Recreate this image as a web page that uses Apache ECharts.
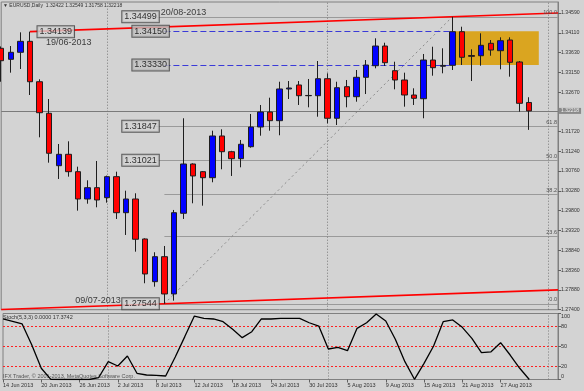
<!DOCTYPE html>
<html><head><meta charset="utf-8">
<script src="https://cdn.jsdelivr.net/npm/echarts@6/dist/echarts.min.js"></script>
<style>html,body{margin:0;padding:0;background:#d3d3d3}#c{width:584px;height:391px}</style>
</head><body><div id="c"></div>
<script>
// ---------- DATA ----------
const dates = ['14 Jun 2013','17 Jun 2013','18 Jun 2013','19 Jun 2013','20 Jun 2013','21 Jun 2013','24 Jun 2013','25 Jun 2013','26 Jun 2013','27 Jun 2013','28 Jun 2013',
'1 Jul 2013','2 Jul 2013','3 Jul 2013','4 Jul 2013','5 Jul 2013','8 Jul 2013','9 Jul 2013','10 Jul 2013','11 Jul 2013','12 Jul 2013','15 Jul 2013','16 Jul 2013','17 Jul 2013','18 Jul 2013','19 Jul 2013','22 Jul 2013','23 Jul 2013','24 Jul 2013','25 Jul 2013','26 Jul 2013','29 Jul 2013','30 Jul 2013','31 Jul 2013',
'1 Aug 2013','2 Aug 2013','5 Aug 2013','6 Aug 2013','7 Aug 2013','8 Aug 2013','9 Aug 2013','12 Aug 2013','13 Aug 2013','14 Aug 2013','15 Aug 2013','16 Aug 2013','19 Aug 2013','20 Aug 2013','21 Aug 2013','22 Aug 2013','23 Aug 2013','26 Aug 2013','27 Aug 2013','28 Aug 2013','29 Aug 2013','30 Aug 2013'];
const futureDates = ['2 Sep 2013','3 Sep 2013','4 Sep 2013'];
const opens  = [1.33735,1.33468,1.33638,1.33904,1.32925,1.32160,1.30890,1.31166,1.30745,1.30083,1.30357,
1.30115,1.30624,1.29751,1.30083,1.29114,1.28079,1.28685,1.27781,1.29737,1.30931,1.30745,1.30599,1.31610,1.31229,1.31060,1.31350,1.31828,1.32191,1.31981,1.32749,1.32846,1.32586,1.32586,
1.32998,1.32039,1.32804,1.32562,1.33032,1.33313,1.33790,1.33192,1.32967,1.32603,1.32513,1.33451,1.33300,1.33323,1.34137,1.33560,1.33555,1.33856,1.33677,1.33936,1.33403,1.32422];
const closes = [1.33434,1.33638,1.33904,1.32925,1.32174,1.31191,1.31166,1.30745,1.30083,1.30357,1.30059,
1.30624,1.29751,1.30083,1.29107,1.28266,1.28685,1.27781,1.29751,1.30931,1.30641,1.30599,1.31610,1.31229,1.31060,1.31409,1.31828,1.32191,1.31981,1.32749,1.32773,1.32586,1.32592,1.32998,
1.32039,1.32780,1.32562,1.33032,1.33330,1.33790,1.33386,1.32967,1.32603,1.32523,1.33451,1.33265,1.33320,1.34137,1.33517,1.33540,1.33807,1.33693,1.33919,1.33395,1.32402,1.32218];
const lows   = [1.32925,1.33144,1.33233,1.32603,1.31578,1.30963,1.30568,1.30624,1.29800,1.29969,1.29882,
1.29994,1.29599,1.29211,1.28806,1.28041,1.27958,1.27544,1.27619,1.29599,1.29979,1.29921,1.30488,1.30803,1.30641,1.30851,1.31326,1.31617,1.31738,1.31627,1.32506,1.32361,1.32305,1.32077,
1.31917,1.31876,1.32305,1.32441,1.32627,1.33250,1.33306,1.32741,1.32320,1.32361,1.32039,1.33071,1.33129,1.33209,1.33330,1.32942,1.33313,1.33555,1.33226,1.33047,1.32198,1.31758];
const highs  = [1.33780,1.33790,1.34122,1.34139,1.32984,1.32506,1.31416,1.31481,1.30866,1.30536,1.31004,
1.30650,1.30745,1.30284,1.30221,1.29130,1.28792,1.28944,1.29817,1.32039,1.30947,1.30760,1.31738,1.31772,1.31250,1.31513,1.32143,1.32361,1.32538,1.32925,1.32942,1.32942,1.32991,1.33427,
1.33129,1.32925,1.32967,1.33209,1.33451,1.33977,1.33870,1.33410,1.33144,1.32766,1.33597,1.33773,1.33735,1.34499,1.34258,1.33710,1.34098,1.33936,1.34001,1.34001,1.33427,1.32549];
const stochK = [91.7,88,84.1,52.7,17,0.3,0,0,0,0,3,
27,20.5,35.6,9.4,6.8,6.3,5.3,34,65,96.2,92.7,91.7,87.6,76,63.4,72.4,91.7,91.7,92.7,92.7,92.7,86,81,
46.2,48.8,43.7,77.5,86,99.2,88.6,60.9,27,0.3,24.5,50.8,87.6,90.2,79,62.4,40.6,42,55.8,37.1,17,0];
const stochSignalLast = 17.3742;
const priceTicks = [1.2740,1.2788,1.2836,1.2884,1.2932,1.2980,1.3028,1.3076,1.3124,1.3172,1.3267,1.3315,1.3363,1.3411,1.3459];
const stochTicks = [0,20,50,80,100];
const stochLevels = [20,50,80];
const fibLevels = [0,23.6,38.2,50,61.8,100];
const fibLow = 1.27544, fibHigh = 1.34499;
const boxedFib = [0,50,61.8,100];
const fibPriceLabels = [1.27544,1.31021,1.31847,1.34499];
const zoneLevels = [1.34150,1.33330];
const monthStarts = ['1 Jul 2013','1 Aug 2013','3 Sep 2013'];
const dateLabelEvery = 4;

// ---------- BUILD ----------
const cats = dates.concat(futureDates);
const lastX = cats.length - 1;
const idx = d => cats.indexOf(d);
const FONT = '"Liberation Sans", Arial, sans-serif';
const BG = '#d3d3d3';
const n = dates.length;
const last = n - 1;
const candles = dates.map((d,i)=>[opens[i],closes[i],lows[i],highs[i]]);
const iTopA = idx('19 Jun 2013'), iTopB = idx('20 Aug 2013'), iLow = idx('9 Jul 2013');
const slope = (highs[iTopB]-highs[iTopA])/(iTopB-iTopA);
const fibPrice = L => fibLow + (fibHigh-fibLow)*L/100;
const mmdd = s => { const p=s.split(' '); const m=['Jan','Feb','Mar','Apr','May','Jun','Jul','Aug','Sep','Oct','Nov','Dec'].indexOf(p[1])+1; return (p[0].length<2?'0':'')+p[0]+'/'+(m<10?'0':'')+m+'-'+p[2]; };

const boxLabel = (extra) => Object.assign({show:true, distance:0, fontFamily:FONT, fontSize:9, lineHeight:10, color:'#000',
  backgroundColor:BG, borderColor:'#3c3c3c', borderWidth:1, padding:[1,2,0,2]}, extra);
const plainLabel = (extra) => Object.assign({show:true, distance:0, fontFamily:FONT, fontSize:9, color:'#111'}, extra);

const zoneStart = iLow, zoneEnd = iTopB;
const labelsData = [
  {value:[iTopA, highs[iTopA]], label: boxLabel({position:'right', offset:[7,0], formatter: highs[iTopA].toFixed(5)})},
  {value:[iTopA, highs[iTopA]], label: plainLabel({position:'right', offset:[15.5,10.5], formatter: mmdd(dates[iTopA])})},
  {value:[iLow-1, highs[iTopB]], label: plainLabel({position:'right', offset:[5.5,-4.5], formatter: mmdd(dates[iTopB])})},
  {value:[iLow-1, lows[iLow]], label: plainLabel({position:'left', offset:[-33.5,-3.5], formatter: mmdd(dates[iLow])})},
];
fibPriceLabels.forEach(p => labelsData.push({value:[iLow-1, p], label: boxLabel({position:'left', offset:[4.5,0], formatter: p.toFixed(5)})}));
zoneLevels.forEach(p => labelsData.push({value:[zoneStart, p], label: boxLabel({position:'left', offset:[5,0], formatter: p.toFixed(5), backgroundColor:'#c2c2c2'})}));

const mainLines = [];
mainLines.push([{coord:[iTopA, highs[iTopA]]},{coord:[lastX, highs[iTopA]+slope*(lastX-iTopA)]}]);
mainLines.push([{coord:[0, lows[iLow]-slope*iLow]},{coord:[lastX, lows[iLow]+slope*(lastX-iLow)]}]);
const redStyle = {color:'#ff0000', width:1.6, type:'solid'};
const mlChannel = mainLines.map(p=>[Object.assign({lineStyle:redStyle},p[0]),p[1]]);
const mlFib = fibLevels.map(L => [
  {coord:[boxedFib.includes(L)?iLow-1:iLow, fibPrice(L)], lineStyle:{color:'#9a9a9a', width:1, type:'solid'},
   label:{show:true, position:'insideEndTop', distance:1, formatter:L.toFixed(1), fontSize:5.5, fontFamily:FONT, color:'#505050'}},
  {coord:[lastX, fibPrice(L)]}
]);
const mlDiag = [[{coord:[iLow, lows[iLow]], lineStyle:{color:'#8a8a8a', width:1, type:[2,3]}},{coord:[iTopB, highs[iTopB]]}]];
const mlZone = zoneLevels.map(p => [{coord:[zoneStart,p], lineStyle:{color:'#3a3ad8', width:1, type:[6,3]}},{coord:[zoneEnd,p]}]);
const mlBid = [{yAxis: closes[last], lineStyle:{color:'#7a7a7a', width:1, type:'solid'},
  label:{show:true, position:'end', distance:1, formatter: closes[last].toFixed(5), fontSize:5, fontFamily:FONT,
    color:'#f0f0f0', backgroundColor:'#8a8a8a', padding:[1,2,0,2]}}];
const sepStyle = {color:'#7a7a7a', width:1, type:[1,2]};
const mlSep = monthStarts.map(d => ({xAxis: idx(d), lineStyle: sepStyle}));

const option = {
  animation:false,
  backgroundColor: BG,
  grid:[
    {left:1.2, right:26, top:2, height:307.7, show:true, borderColor:'#808080', borderWidth:1, backgroundColor:'transparent'},
    {left:1.2, right:26, top:313.5, height:66, show:true, borderColor:'#808080', borderWidth:1, backgroundColor:'transparent'}
  ],
  xAxis:[
    {type:'category', gridIndex:0, data:cats, boundaryGap:false, axisLine:{show:false}, axisTick:{show:false}, axisLabel:{show:false}, splitLine:{show:false}},
    {type:'category', gridIndex:1, data:cats, boundaryGap:false,
      axisLine:{show:true, lineStyle:{color:'#808080'}},
      axisTick:{show:true, length:3, interval:(i)=> i%dateLabelEvery===0 && i<n-2, lineStyle:{color:'#606060'}},
      axisLabel:{show:true, interval:(i)=> i%dateLabelEvery===0 && i<n-2, align:'left', margin:3, fontSize:5.5, fontFamily:FONT, color:'#333'},
      splitLine:{show:false}}
  ],
  yAxis:[
    {type:'value', gridIndex:0, position:'right', min:1.274, max:1.34857, scale:true,
      axisLine:{show:true, lineStyle:{color:'#808080'}},
      axisTick:{show:true, length:3, customValues:priceTicks, lineStyle:{color:'#606060'}},
      axisLabel:{show:true, customValues:priceTicks, formatter:v=>v.toFixed(5), margin:3, fontSize:5.2, fontFamily:FONT, color:'#333'},
      splitLine:{show:false}},
    {type:'value', gridIndex:1, position:'right', min:0, max:100,
      axisLine:{show:true, lineStyle:{color:'#808080'}},
      axisTick:{show:true, length:3, customValues:stochTicks, lineStyle:{color:'#606060'}},
      axisLabel:{show:true, customValues:stochTicks, margin:3, fontSize:5.5, fontFamily:FONT, color:'#333',
        verticalAlignMinLabel:'bottom', verticalAlignMaxLabel:'top'},
      splitLine:{show:false}}
  ],
  series:[
    {type:'line', xAxisIndex:0, yAxisIndex:0, data:[], silent:true,
      markArea:{silent:true, z:1, itemStyle:{color:'#daa520', opacity:1}, label:{show:false},
        data:[[{coord:[iTopB, zoneLevels[0]]},{coord:[idx('2 Sep 2013'), zoneLevels[1]]}]]},
      markLine:{silent:true, z:2, precision:6, symbol:['none','none'], label:{show:false},
        data: [].concat(mlFib, mlDiag, mlZone, mlBid, mlSep, mlChannel)}},
    {type:'candlestick', xAxisIndex:0, yAxisIndex:0, data:candles, barWidth:6, z:10,
      itemStyle:{color:'#0000ff', color0:'#ff0000', borderColor:'#1e1e1e', borderColor0:'#1e1e1e', borderWidth:1}},
    {type:'scatter', xAxisIndex:0, yAxisIndex:0, data:labelsData, symbolSize:1, itemStyle:{color:'rgba(0,0,0,0)'}, z:20, silent:true},
    {type:'line', xAxisIndex:1, yAxisIndex:1, data:stochK, symbol:'none', z:10,
      lineStyle:{color:'#000', width:1.3}, itemStyle:{color:'#000'},
      markLine:{silent:true, z:2, precision:6, symbol:['none','none'], label:{show:false},
        data: stochLevels.map(v=>({yAxis:v, lineStyle:{color:'#ff2020', width:1, type:[2,2]}})).concat(mlSep)}}
  ],
  graphic:[
    {type:'text', left:3, top:3, z:50, style:{text:'\u25BC EURUSD,Daily  '+opens[last].toFixed(5)+' '+highs[last].toFixed(5)+' '+lows[last].toFixed(5)+' '+closes[last].toFixed(5), fontSize:5, fontFamily:FONT, fill:'#333'}},
    {type:'text', left:3, top:314, z:50, style:{text:'Stoch(5,3,3) '+stochK[last].toFixed(4)+' '+stochSignalLast.toFixed(4), fontSize:5.5, fontFamily:FONT, fill:'#333'}},
    {type:'text', left:3, top:373, z:5, style:{text:'IFX Trader, \u00A9 2001-2013, MetaQuotes Software Corp.', fontSize:5.5, fontFamily:FONT, fill:'#555'}}
  ]
};
const chart = echarts.init(document.getElementById('c'));
chart.setOption(option);
</script>
</body></html>
